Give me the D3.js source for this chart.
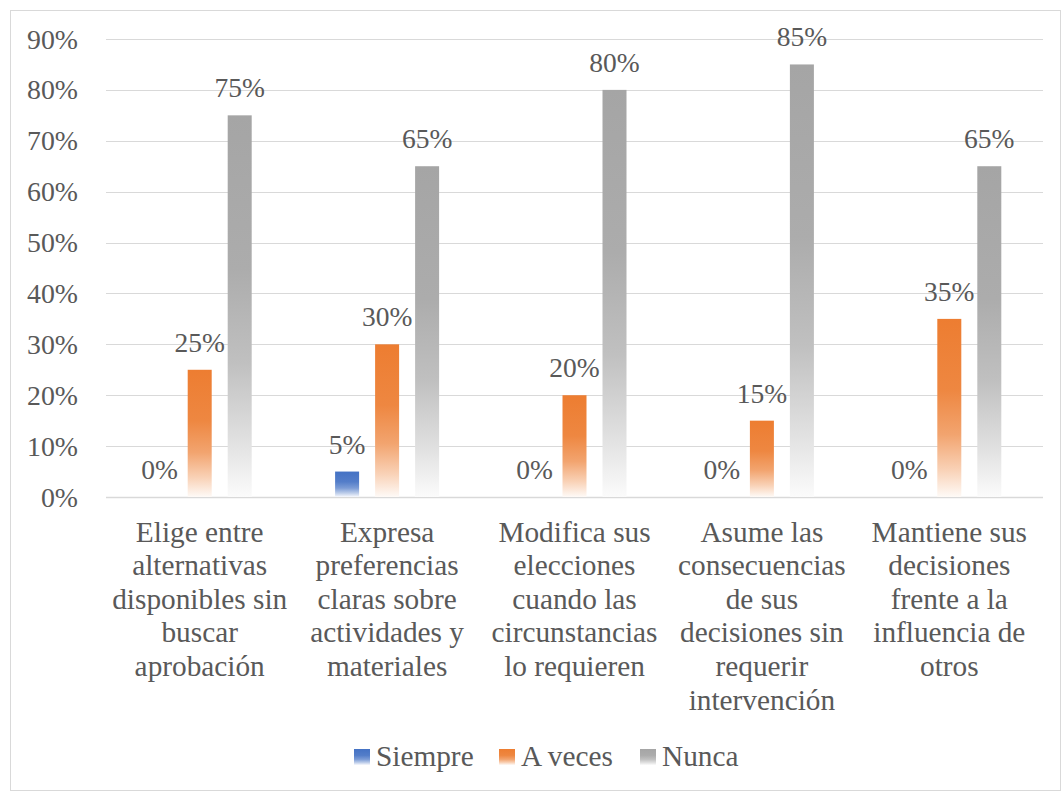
<!DOCTYPE html>
<html>
<head>
<meta charset="utf-8">
<script src="https://cdn.jsdelivr.net/npm/d3@7"></script>
<style>
  html, body { margin: 0; padding: 0; background: #fff; }
  svg { display: block; }
  svg text { font-family: 'Liberation Serif', 'Times New Roman', Times, serif; fill: #595959; }
</style>
</head>
<body>
<svg id="chart" width="1063" height="793"></svg>
<script>
const categories = [
  ["Elige entre", "alternativas", "disponibles sin", "buscar", "aprobación"],
  ["Expresa", "preferencias", "claras sobre", "actividades y", "materiales"],
  ["Modifica sus", "elecciones", "cuando las", "circunstancias", "lo requieren"],
  ["Asume las", "consecuencias", "de sus", "decisiones sin", "requerir", "intervención"],
  ["Mantiene sus", "decisiones", "frente a la", "influencia de", "otros"]
];
const seriesNames = ["Siempre", "A veces", "Nunca"];
const siempre = [0, 5, 0, 0, 0];
const aVeces = [25, 30, 20, 15, 35];
const nunca = [75, 65, 80, 85, 65];
const yTicks = [0, 10, 20, 30, 40, 50, 60, 70, 80, 90];
const seriesColors = ["#4472C4", "#ED7D31", "#A5A5A5"];

const seriesValues = [siempre, aVeces, nunca];
const svg = d3.select("#chart");
const W = 1063, H = 793;

// outer border
svg.append("rect").attr("x", 10.5).attr("y", 10.5).attr("width", W - 13).attr("height", H - 13)
  .attr("fill", "#fff").attr("stroke", "#d9d9d9").attr("stroke-width", 1);

const plotLeft = 106, plotRight = 1043, plotTop = 39, plotBottom = 497;
const y = d3.scaleLinear().domain([0, 90]).range([plotBottom, plotTop]);
const x0 = d3.scaleBand().domain(d3.range(categories.length)).range([plotLeft, plotRight]).padding(0);
const x1 = d3.scaleBand().domain(seriesNames).range([-60, 60]).paddingInner(0.4).paddingOuter(0.2);

// gradients
const defs = svg.append("defs");
seriesColors.forEach((c, i) => {
  const g = defs.append("linearGradient").attr("id", "grad" + i)
    .attr("x1", 0).attr("y1", 0).attr("x2", 0).attr("y2", 1);
  const mix = t => d3.interpolateRgb(c, "#ffffff")(t);
  [[0, 0], [0.4, 0.08], [0.65, 0.3], [0.85, 0.65], [1, 0.96]].forEach(([o, t]) => {
    g.append("stop").attr("offset", o).attr("stop-color", mix(t));
  });
});

// gridlines
svg.append("g").selectAll("line").data(yTicks).join("line")
  .attr("x1", plotLeft).attr("x2", plotRight)
  .attr("y1", d => Math.round(y(d)) + 0.5).attr("y2", d => Math.round(y(d)) + 0.5)
  .attr("stroke", "#d9d9d9").attr("stroke-width", d => d === 0 ? 1.5 : 1);

// y tick labels
svg.append("g").selectAll("text").data(yTicks).join("text")
  .attr("x", 78).attr("y", d => y(d) + 9.5)
  .attr("text-anchor", "end").attr("font-size", 27.8)
  .text(d => d + "%");

// bars
const groups = svg.append("g").selectAll("g").data(categories).join("g")
  .attr("transform", (d, i) => `translate(${x0(i) + x0.bandwidth() / 2},0)`);

seriesNames.forEach((s, si) => {
  groups.append("rect")
    .attr("x", x1(s))
    .attr("width", x1.bandwidth())
    .attr("y", (d, i) => y(seriesValues[si][i]))
    .attr("height", (d, i) => y(0) - y(seriesValues[si][i]))
    .attr("fill", `url(#grad${si})`);
  groups.append("text")
    .attr("x", x1(s) + x1.bandwidth() / 2)
    .attr("y", (d, i) => y(seriesValues[si][i]) - 18)
    .attr("text-anchor", "middle").attr("font-size", 27.5)
    .text((d, i) => seriesValues[si][i] + "%");
});

// category labels
groups.append("text")
  .attr("text-anchor", "middle").attr("font-size", 29.3)
  .selectAll("tspan").data(d => d).join("tspan")
  .attr("x", 0).attr("y", (d, i) => 541.5 + i * 33.6)
  .text(d => d);

// legend
const legendX = [354, 499, 640];
const legend = svg.append("g").selectAll("g").data(seriesNames).join("g")
  .attr("transform", (d, i) => `translate(${legendX[i]},749)`);
legend.append("rect").attr("width", 16).attr("height", 16)
  .attr("fill", (d, i) => `url(#grad${i})`);
legend.append("text").attr("x", 22).attr("y", 17).attr("font-size", 29.3).text(d => d);
</script>
</body>
</html>
